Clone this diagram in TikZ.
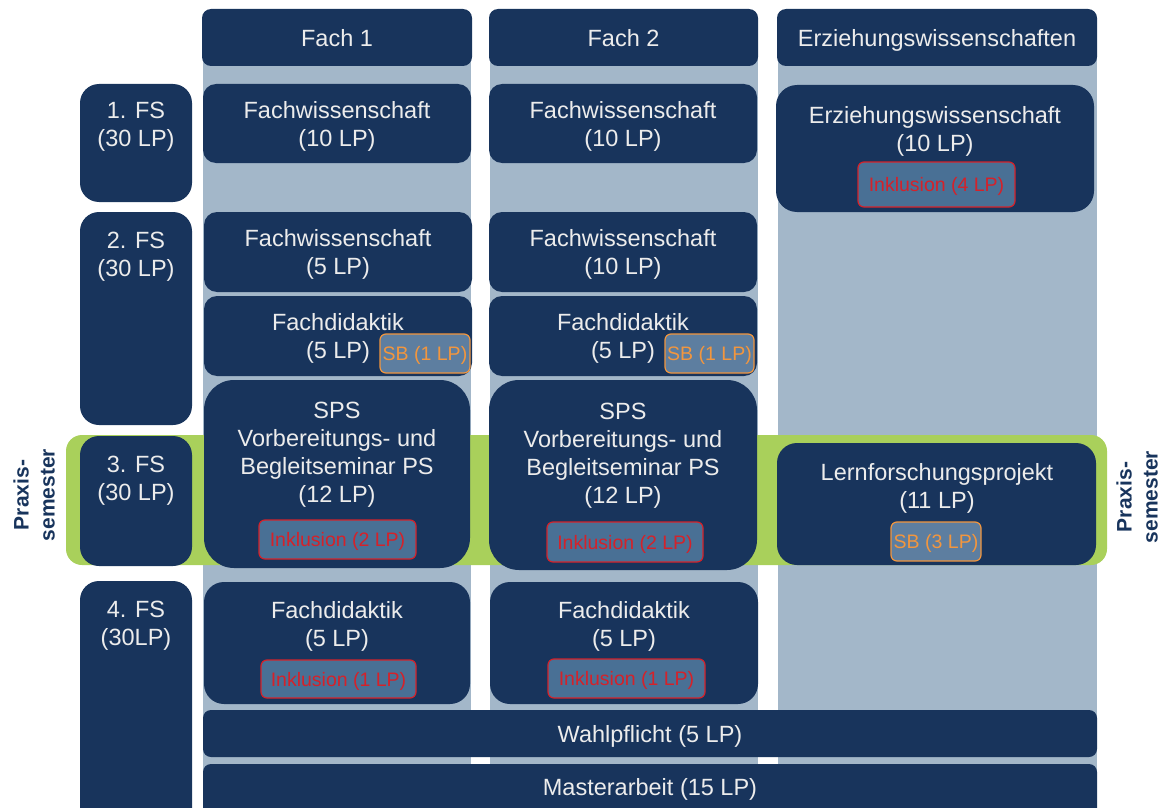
\documentclass[tikz,border=0pt]{standalone}
\usepackage{fontspec}
\setmainfont{Liberation Sans}
\definecolor{navy}{RGB}{24,52,92}
\definecolor{grau}{RGB}{163,183,201}
\definecolor{gruen}{RGB}{169,208,91}
\definecolor{hell}{RGB}{236,236,236}
\definecolor{inkblau}{RGB}{73,112,149}
\definecolor{sbblau}{RGB}{93,126,160}
\definecolor{inkrot}{RGB}{212,34,42}
\definecolor{sborange}{RGB}{242,150,62}
\tikzset{
  modul/.style={fill=navy,text=hell,align=center,inner sep=0pt,text depth=0pt,
    font=\fontsize{23.5}{28}\selectfont},
  beschr/.style={text=hell,align=center,inner sep=0pt,text depth=0pt,
    font=\fontsize{23.5}{28}\selectfont},
  inkl/.style={fill=inkblau,draw=inkrot,text=inkrot,line width=1.2pt,text depth=0pt,
    rounded corners=6pt,inner sep=0pt,font=\fontsize{19.5}{23}\selectfont},
  sbkasten/.style={fill=sbblau,draw=sborange,text=sborange,line width=1.2pt,text depth=0pt,
    rounded corners=6pt,inner sep=0pt,font=\fontsize{19.5}{23}\selectfont},
  praxis/.style={text=navy,align=center,inner sep=0pt,rotate=90,
    font=\fontsize{21}{26}\selectfont\bfseries}
}
\begin{document}
\begin{tikzpicture}[line cap=round,line join=round,x=1pt,y=-1pt]
        \useasboundingbox (0,0) rectangle (1163,808);
        \clip (0,0) rectangle (1163,808);
        % Spalten
        \fill [grau] (203,30) rectangle (471,808);
        \fill [grau] (490,30) rectangle (758,808);
        \fill [grau] (778,30) rectangle (1097,808);
        % Praxissemester
        \fill [gruen,rounded corners=16pt] (66,435) rectangle (1107,565);
        \node[praxis] (praxL) at (34,495) {Praxis-\\semester};
        \node[praxis] (praxR) at (1137,497) {Praxis-\\semester};
        % Kopfzeile
        \node[modul,rounded corners=9pt,minimum width=270pt,minimum height=57pt] (kopf1) at (337,37.5) {Fach 1};
        \node[modul,rounded corners=9pt,minimum width=269pt,minimum height=57pt] (kopf2) at (623.5,37.5) {Fach 2};
        \node[modul,rounded corners=9pt,minimum width=320pt,minimum height=57pt] (kopf3) at (937,37.5) {Erziehungswissenschaften};
        % Fachsemester
        \node[modul,rounded corners=19pt,minimum width=112pt,minimum height=118pt] (fs1) at (136,143) {};
        \node[beschr] (fs1txt) at (136,124.5) {1. FS\\(30 LP)};
        \node[modul,rounded corners=19pt,minimum width=112pt,minimum height=213pt] (fs2) at (136,318.5) {};
        \node[beschr] (fs2txt) at (136,254.5) {2. FS\\(30 LP)};
        \node[modul,rounded corners=19pt,minimum width=112pt,minimum height=130pt] (fs3) at (136,501) {};
        \node[beschr] (fs3txt) at (136,478) {3. FS\\(30 LP)};
        \node[modul,rounded corners=19pt,minimum width=112pt,minimum height=250pt] (fs4) at (136,706) {};
        \node[beschr] (fs4txt) at (136,623.5) {4. FS\\(30LP)};
        % Fach 1
        \node[modul,rounded corners=13pt,minimum width=268pt,minimum height=79pt] (fwA1) at (337,123.5) {Fachwissenschaft\\(10 LP)};
        \node[modul,rounded corners=13pt,minimum width=268pt,minimum height=80pt] (fwA2) at (338,252) {Fachwissenschaft\\(5 LP)};
        \node[modul,rounded corners=13pt,minimum width=268pt,minimum height=80pt] (fdA1) at (338,336) {Fachdidaktik\\(5 LP)};
        \node[sbkasten,minimum width=90pt,minimum height=39pt] (sbA) at (425,353.5) {SB (1 LP)};
        \node[modul,rounded corners=30pt,minimum width=266pt,minimum height=188pt] (spsA) at (337,474) {};
        \node[beschr] (spsAtxt) at (337,452.5) {SPS\\Vorbereitungs- und\\Begleitseminar PS\\(12 LP)};
        \node[inkl,minimum width=157pt,minimum height=39pt] (inkA1) at (337.5,539.5) {Inklusion (2 LP)};
        \node[modul,rounded corners=20pt,minimum width=266pt,minimum height=122pt] (fdA2) at (337,643) {};
        \node[beschr] (fdA2txt) at (337,623.5) {Fachdidaktik\\(5 LP)};
        \node[inkl,minimum width=155pt,minimum height=38pt] (inkA2) at (338.5,679) {Inklusion (1 LP)};
        % Fach 2
        \node[modul,rounded corners=13pt,minimum width=268pt,minimum height=79pt] (fwB1) at (623,123.5) {Fachwissenschaft\\(10 LP)};
        \node[modul,rounded corners=13pt,minimum width=268pt,minimum height=80pt] (fwB2) at (623,252) {Fachwissenschaft\\(10 LP)};
        \node[modul,rounded corners=13pt,minimum width=268pt,minimum height=80pt] (fdB1) at (623,336) {Fachdidaktik\\(5 LP)};
        \node[sbkasten,minimum width=89pt,minimum height=39pt] (sbB) at (709.5,353.5) {SB (1 LP)};
        \node[modul,rounded corners=30pt,minimum width=268pt,minimum height=190pt] (spsB) at (623,475) {};
        \node[beschr] (spsBtxt) at (623,453) {SPS\\Vorbereitungs- und\\Begleitseminar PS\\(12 LP)};
        \node[inkl,minimum width=156pt,minimum height=40pt] (inkB1) at (625,542) {Inklusion (2 LP)};
        \node[modul,rounded corners=20pt,minimum width=268pt,minimum height=122pt] (fdB2) at (624,643) {};
        \node[beschr] (fdB2txt) at (624,623.5) {Fachdidaktik\\(5 LP)};
        \node[inkl,minimum width=157pt,minimum height=39pt] (inkB2) at (626.5,678.5) {Inklusion (1 LP)};
        % Erziehungswissenschaften
        \node[modul,rounded corners=21pt,minimum width=318pt,minimum height=127pt] (ewC) at (935,148.5) {};
        \node[beschr] (ewCtxt) at (935,128.5) {Erziehungswissenschaft\\(10 LP)};
        \node[inkl,minimum width=157pt,minimum height=45pt] (inkC) at (936.5,184.5) {Inklusion (4 LP)};
        \node[modul,rounded corners=20pt,minimum width=319pt,minimum height=122pt] (lfC) at (936.5,504) {};
        \node[beschr] (lfCtxt) at (937,486) {Lernforschungsprojekt\\(11 LP)};
        \node[sbkasten,minimum width=90pt,minimum height=39pt] (sbC) at (936,541.5) {SB (3 LP)};
        % Abschluss
        \node[modul,rounded corners=8pt,minimum width=894pt,minimum height=47pt] (wpf) at (650,733.5) {Wahlpflicht (5 LP)};
        \node[modul,rounded corners=8pt,minimum width=894pt,minimum height=66pt] (ma) at (650,797) {};
        \node[beschr] (matxt) at (650,787) {Masterarbeit (15 LP)};
\end{tikzpicture}
\end{document}
